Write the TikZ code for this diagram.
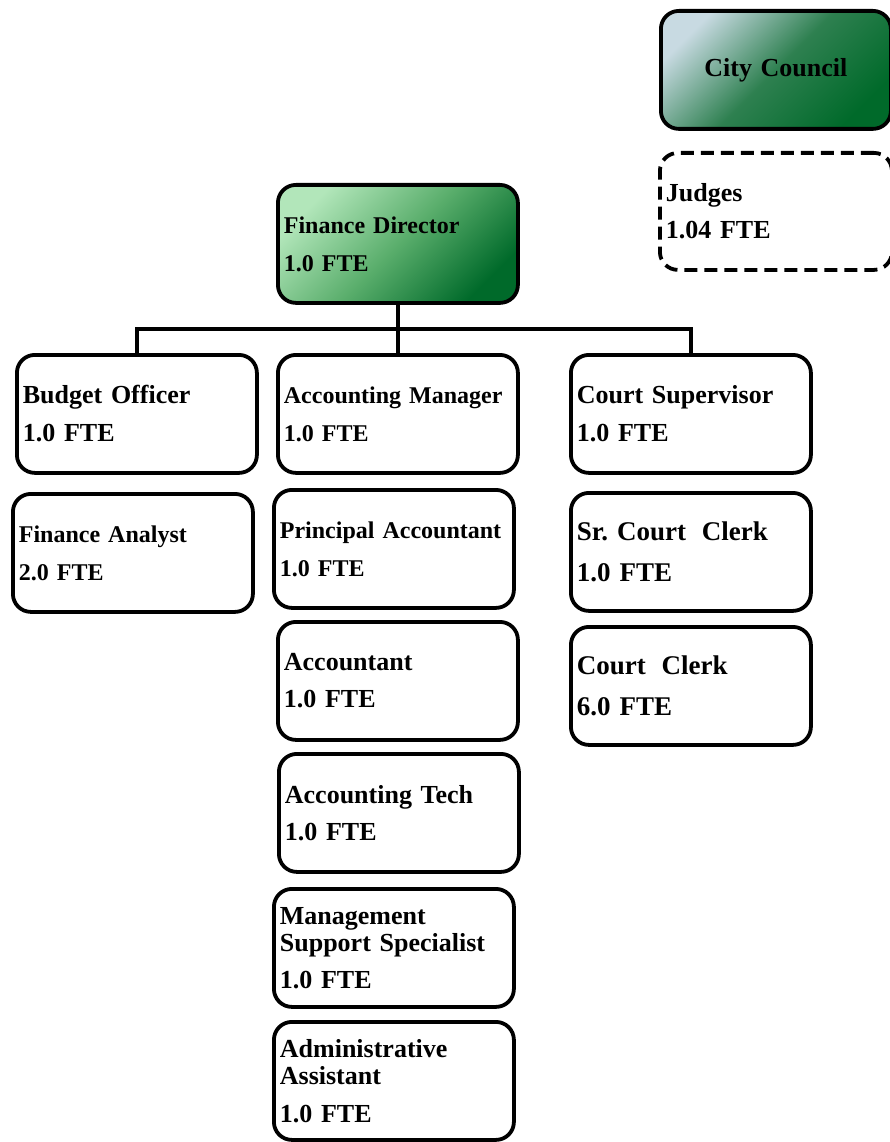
\documentclass[tikz,border=0pt]{standalone}
\usepackage{fontspec}
\setmainfont{Liberation Serif}
\frenchspacing
\definecolor{councilLight}{HTML}{C8DAE2}
\definecolor{councilMid}{HTML}{2E8050}
\definecolor{councilDark}{HTML}{006A2A}
\definecolor{dirLight}{HTML}{B2E6BA}
\definecolor{dirMid}{HTML}{5AAE6C}
\definecolor{dirDark}{HTML}{006A2A}
\tikzset{
  orgbox/.style={draw=black, line width=3.8pt, rounded corners=18pt,
    anchor=north west, minimum width=240pt, minimum height=118pt,
    inner xsep=6pt, text width=228pt, align=left,
    font=\bfseries\fontsize{26}{27}\selectfont},
  tightname/.style={font=\bfseries\fontsize{24}{27}\selectfont},
  bigname/.style={font=\bfseries\fontsize{27}{29}\selectfont},
  dashedbox/.style={orgbox, dash pattern=on 13pt off 7pt},
  councilbox/.style={orgbox, minimum width=230pt, text width=218pt, align=center,
    font=\bfseries\fontsize{26}{28}\selectfont,
    top color=councilLight, bottom color=councilDark, middle color=councilMid,
    shading angle=45},
  directorbox/.style={orgbox,
    top color=dirLight, bottom color=dirDark, middle color=dirMid,
    shading angle=45},
  link/.style={draw=black, line width=3.8pt}
}
\begin{document}
\begin{tikzpicture}[x=1pt, y=-1pt]
\useasboundingbox (0,0) rectangle (890,1142);

% governing bodies
\node[councilbox, minimum height=118pt] (council) at (659,9) {City Council};
\node[dashedbox, minimum width=232pt, text width=220pt, minimum height=117pt] (judges) at (658,151)
  {Judges\\[10pt]1.04 FTE};

% director
\node[directorbox, tightname] (director) at (276,183) {Finance Director\\[11pt]1.0 FTE};

% budget column
\node[orgbox] (budget) at (15,353) {Budget Officer\\[11pt]1.0 FTE};
\node[orgbox, tightname] (analyst) at (11,492) {Finance Analyst\\[11pt]2.0 FTE};

% accounting column
\node[orgbox, tightname] (acctmgr) at (276,353) {Accounting Manager\\[11pt]1.0 FTE};
\node[orgbox, tightname] (principal) at (272,488) {Principal Accountant\\[11pt]1.0 FTE};
\node[orgbox] (accountant) at (276,620) {Accountant\\[10pt]1.0 FTE};
\node[orgbox] (accttech) at (277,752) {Accounting Tech\\[10pt]1.0 FTE};
\node[orgbox] (mgmt) at (272,887) {Management\\Support Specialist\\[10pt]1.0 FTE};
\node[orgbox] (admin) at (272,1020) {Administrative\\Assistant\\[11pt]1.0 FTE};

% court column
\node[orgbox] (courtsup) at (569,353) {Court Supervisor\\[11pt]1.0 FTE};
\node[orgbox, bigname] (srclerk) at (569,491) {Sr. Court\hspace{0.25em} Clerk\\[12pt]1.0 FTE};
\node[orgbox, bigname] (clerk) at (569,625) {Court\hspace{0.25em} Clerk\\[12pt]6.0 FTE};

% reporting lines
\coordinate (bar) at (396,329);
\draw[link] (director.south) -- (acctmgr.north);
\draw[link] (budget.north) |- (bar) -| (courtsup.north);
\end{tikzpicture}
\end{document}
